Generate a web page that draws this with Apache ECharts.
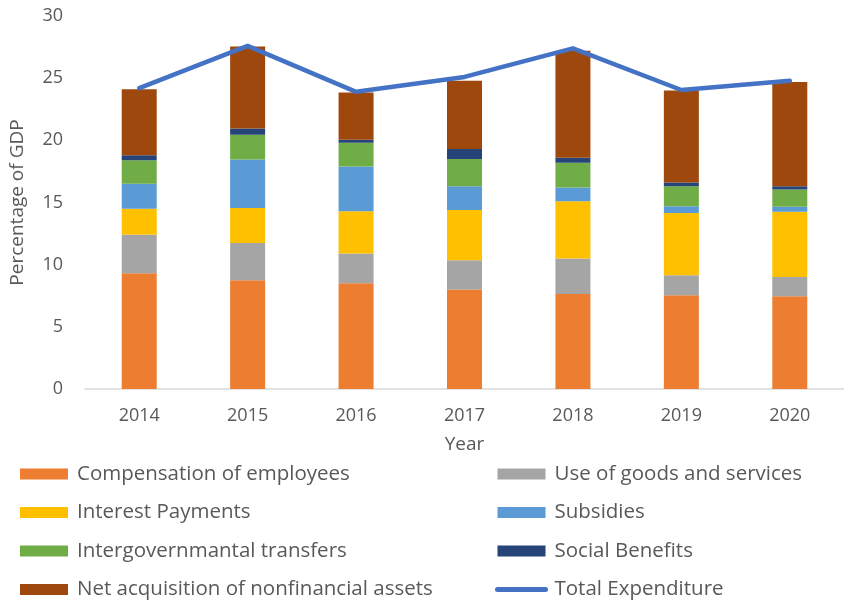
<!DOCTYPE html>
<html><head><meta charset="utf-8">
<script src="https://cdn.jsdelivr.net/npm/echarts@6/dist/echarts.min.js"></script>
<style>html,body{margin:0;padding:0;background:#fff}#c{width:844px;height:604px}</style>
</head><body><div id="c"></div>
<script>
const years = ['2014','2015','2016','2017','2018','2019','2020'];
const compensation = [9.3, 8.75, 8.5, 8.0, 7.65, 7.55, 7.45];
const goodsServices = [3.1, 3.0, 2.4, 2.35, 2.85, 1.6, 1.55];
const interest = [2.1, 2.8, 3.4, 4.05, 4.6, 5.0, 5.25];
const subsidies = [2.0, 3.9, 3.6, 1.9, 1.1, 0.55, 0.4];
const intergov = [1.9, 2.0, 1.9, 2.2, 2.0, 1.6, 1.4];
const socialBenefits = [0.4, 0.5, 0.25, 0.8, 0.4, 0.3, 0.25];
const netAcquisition = [5.3, 6.6, 3.8, 5.5, 8.6, 7.4, 8.4];
const totalExpenditure = [24.2, 27.6, 23.9, 25.1, 27.4, 24.05, 24.8];
const yTicks = [0, 5, 10, 15, 20, 25, 30];

const FONT = 'Open Sans';
const TXT = '#595959';
const chart = echarts.init(document.getElementById('c'));
function bar(name, data, color) {
  return {name, type: 'bar', stack: 'e', data, barWidth: 35, itemStyle: {color}};
}
const legendText = {fontFamily: FONT, fontSize: 20.5, color: TXT, lineHeight: 24, padding: [0, 0, 0, 4]};
const legendCommon = {orient: 'vertical', top: 462, height: 142, itemWidth: 48, itemHeight: 11,
  itemGap: 14.5, textStyle: legendText, padding: 0};
chart.setOption({
  animation: false,
  textStyle: {fontFamily: FONT},
  grid: {left: 84, top: 16, width: 772, bottom: 215, containLabel: false},
  legend: [
    Object.assign({left: 20, icon: 'rect',
     data: ['Compensation of employees', 'Interest Payments', 'Intergovernmantal transfers', 'Net acquisition of nonfinancial assets']}, legendCommon),
    Object.assign({left: 495,
     data: [{name: 'Use of goods and services', icon: 'rect'}, {name: 'Subsidies', icon: 'rect'}, {name: 'Social Benefits', icon: 'rect'},
            {name: 'Total Expenditure', icon: 'inherit', lineStyle: {width: 5, cap: 'round'},
             itemStyle: {color: 'rgba(0,0,0,0)', borderColor: 'rgba(0,0,0,0)', borderWidth: 0}}]}, legendCommon)
  ],
  xAxis: {
    type: 'category', data: years,
    name: 'Year', nameLocation: 'middle', nameGap: 46,
    nameTextStyle: {fontFamily: FONT, fontSize: 19, color: TXT},
    axisLine: {lineStyle: {color: '#D9D9D9', width: 1.5}},
    axisTick: {show: false},
    axisLabel: {fontFamily: FONT, fontSize: 18, color: TXT, margin: 18}
  },
  yAxis: {
    type: 'value', min: yTicks[0], max: yTicks[yTicks.length - 1], interval: 5,
    name: 'Percentage of GDP', nameLocation: 'middle', nameGap: 58, nameRotate: 90,
    nameTextStyle: {fontFamily: FONT, fontSize: 19, color: TXT},
    axisLine: {show: false}, axisTick: {show: false},
    splitLine: {show: false},
    axisLabel: {fontFamily: FONT, fontSize: 18, color: TXT, margin: 22}
  },
  series: [
    bar('Compensation of employees', compensation, '#ED7D31'),
    bar('Use of goods and services', goodsServices, '#A5A5A5'),
    bar('Interest Payments', interest, '#FFC000'),
    bar('Subsidies', subsidies, '#5B9BD5'),
    bar('Intergovernmantal transfers', intergov, '#70AD47'),
    bar('Social Benefits', socialBenefits, '#264478'),
    bar('Net acquisition of nonfinancial assets', netAcquisition, '#9E480E'),
    {name: 'Total Expenditure', type: 'line', data: totalExpenditure, symbol: 'none',
     lineStyle: {color: '#4472C4', width: 4.5, cap: 'round', join: 'round'}, itemStyle: {color: '#4472C4'}, z: 5}
  ]
});
</script></body></html>
